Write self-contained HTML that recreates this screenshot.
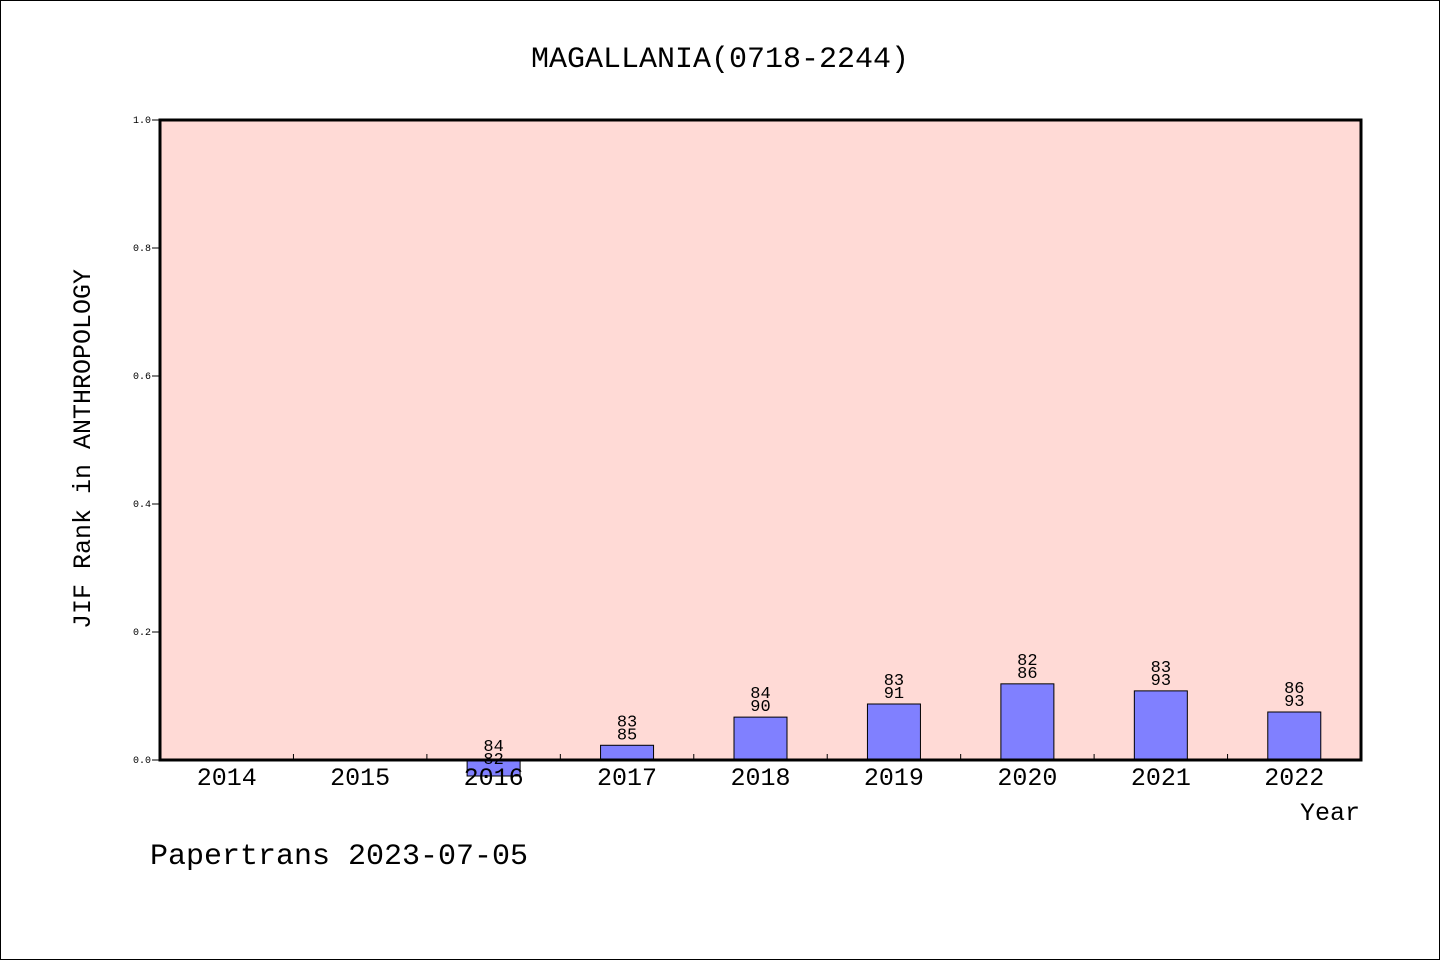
<!DOCTYPE html>
<html><head><meta charset="utf-8"><style>
body{margin:0;background:#fff}
svg{display:block}
text{font-family:"Liberation Mono",monospace;fill:#000}
</style></head><body>
<svg id="chart" width="1440" height="960">
<rect x="0.5" y="0.5" width="1439" height="959" fill="#fff" stroke="#000"/>
<text x="720" y="67" font-size="30" text-anchor="middle">MAGALLANIA(0718-2244)</text>
<rect x="160" y="120" width="1201" height="640" fill="#ffdad6"/>
<g id="bars"></g>
<g id="ticks"></g>
<rect x="160" y="120" width="1201" height="640" fill="none" stroke="#000" stroke-width="3"/>
<text transform="translate(90,449) rotate(-90)" font-size="25" text-anchor="middle">JIF Rank in ANTHROPOLOGY</text>
<text x="1360" y="820" font-size="25" text-anchor="end">Year</text>
<text x="150" y="864" font-size="30">Papertrans 2023-07-05</text>
</svg>
<script>
const years=["2014","2015","2016","2017","2018","2019","2020","2021","2022"];
const values=[null,null,-0.025,0.023,0.067,0.0875,0.119,0.108,0.075];
const topLabels=["","","84","83","84","83","82","83","86"];
const bottomLabels=["","","82","85","90","91","86","93","93"];
const yTicks=[0,0.2,0.4,0.6,0.8,1.0];
const x0=160,x1=1361,yTop=120,yBot=760;
const bw=(x1-x0)/years.length;
const xc=i=>x0+bw*(i+0.5);
const yp=v=>yBot-(v)*(yBot-yTop);
const NS="http://www.w3.org/2000/svg";
const bars=document.getElementById('bars'),ticks=document.getElementById('ticks');
function mk(tag,attrs,parent){const e=document.createElementNS(NS,tag);for(const k in attrs)e.setAttribute(k,attrs[k]);parent.appendChild(e);return e;}
years.forEach((y,i)=>{
  const t=mk('text',{x:xc(i),y:785,'font-size':25,'text-anchor':'middle'},ticks);
  
  
  t.textContent=y;
  if(i>0){const l=mk('line',{x1:x0+bw*i,x2:x0+bw*i,y1:yBot,y2:yBot-6,stroke:'#000'},ticks);
    
    }
  const v=values[i];
  if(v===null)return;
  const top=Math.min(yp(v),yp(0)),h=Math.abs(yp(v)-yp(0));
  const r=mk('rect',{x:xc(i)-26.5,y:top,width:53,height:h,fill:'#8080ff',stroke:'#000','stroke-width':1},bars);
  
  
  const base=v>=0?yp(v)-6:yp(0)+4;
  const b=mk('text',{x:xc(i),y:base,'font-size':17,'text-anchor':'middle'},bars);
  
  
  b.textContent=bottomLabels[i];
  const a=mk('text',{x:xc(i),y:base-13,'font-size':17,'text-anchor':'middle'},bars);
  
  
  a.textContent=topLabels[i];
});
yTicks.forEach(v=>{
  const l=mk('line',{x1:x0,x2:x0-8,y1:yp(v),y2:yp(v),stroke:'#000'},ticks);
  
  
  const t=mk('text',{x:151,y:yp(v)+3,'font-size':10,'text-anchor':'end'},ticks);
  
  
  t.textContent=v.toFixed(1);
});
</script>
</body></html>
